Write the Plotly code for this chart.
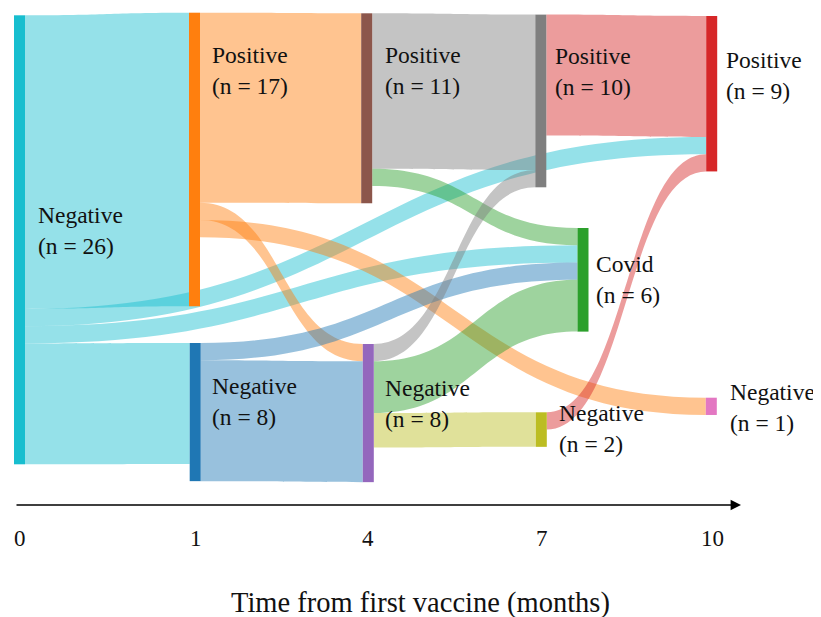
import plotly.graph_objects as go

# ---------------- data ----------------
node_names = ["Negative", "Positive", "Negative", "Positive", "Negative",
              "Positive", "Negative", "Covid", "Positive", "Negative"]
node_counts = [26, 17, 8, 11, 8, 10, 2, 6, 9, 1]

link_source = [0, 0, 0, 0, 1, 1, 1, 2, 2, 3, 3, 4, 4, 4, 5, 6]
link_target = [1, 8, 7, 2, 3, 9, 4, 4, 7, 5, 7, 5, 7, 6, 8, 8]
link_value = [17, 1, 1, 7, 11, 1, 1, 7, 1, 9, 1, 1, 3, 2, 7, 1]

month_ticks = ["0", "1", "4", "7", "10"]
axis_title = "Time from first vaccine (months)"

# ---------------- style / layout ----------------
W, H = 821, 617
OFF = 8  # page body margin of the rendered html
FONT = "Liberation Serif"
node_colors = ["#17becf", "#ff7f0e", "#1f77b4", "#8c564b", "#9467bd",
               "#7f7f7f", "#bcbd22", "#2ca02c", "#d62728", "#e377c2"]
# links coloured by source (first two steps) or by target (later steps)
link_color_by = ["s", "s", "s", "s", "s", "s", "s", "s", "s",
                 "t", "t", "t", "t", "t", "t", "t"]
LINK_ALPHA = 0.46


def rgba(hexc, a):
    h = hexc.lstrip("#")
    return "rgba(%d,%d,%d,%.2f)" % (int(h[0:2], 16), int(h[2:4], 16), int(h[4:6], 16), a)


def px_x(v):
    return (v - OFF) / W


def px_y(v):
    return 1 - (v - OFF) / H


link_colors = [rgba(node_colors[s if c == "s" else t], LINK_ALPHA)
               for s, t, c in zip(link_source, link_target, link_color_by)]

# sankey drawing area (pixels, page coordinates)
SK_TOP, SK_H = 14.0, 449.0
KY = SK_H / max(node_counts)          # px per patient (largest column = 26)
THICK = 11

# node placement (pixel centre x, pixel top y; page coordinates)
node_cx_px = [19.5, 194.5, 195.2, 366.7, 368.3, 540.8, 541.3, 583.0, 711.7, 711.3]
node_top_px = [15.3, 12.7, 343.0, 13.3, 344.0, 14.6, 412.3, 228.0, 16.0, 397.7]
node_x = [(cx - OFF) / W for cx in node_cx_px]
node_y = [(top + n * KY / 2 - SK_TOP) / SK_H for top, n in zip(node_top_px, node_counts)]

fig = go.Figure(go.Sankey(
    arrangement="fixed",
    domain=dict(x=[0, 1], y=[px_y(SK_TOP + SK_H), px_y(SK_TOP)]),
    node=dict(
        label=[""] * len(node_names),
        customdata=["%s (n = %d)" % (a, b) for a, b in zip(node_names, node_counts)],
        hovertemplate="%{customdata}<extra></extra>",
        color=node_colors,
        x=node_x,
        y=node_y,
        pad=10,
        thickness=THICK,
        line=dict(width=0),
    ),
    link=dict(
        source=link_source,
        target=link_target,
        value=link_value,
        color=link_colors,
    ),
))

# node labels (left x px, vertical centre px; page coordinates)
label_left_px = [36, 210, 210, 383, 383, 553, 557, 594, 724, 728]
label_cy_px = [230, 70, 401, 70, 403, 71, 428, 279, 75, 407]
LABEL_SIZE = 23.5

annotations = []
for name, n, lx, ly in zip(node_names, node_counts, label_left_px, label_cy_px):
    annotations.append(dict(
        text="%s<br>(n = %d)" % (name, n), x=px_x(lx), y=px_y(ly),
        xref="paper", yref="paper", xanchor="left", yanchor="middle",
        align="left", showarrow=False,
        font=dict(family=FONT, size=LABEL_SIZE, color="#111111"),
    ))

# time axis arrow
ARROW_Y, ARROW_X0, ARROW_X1 = 505, 15, 741
annotations.append(dict(
    text="", x=px_x(ARROW_X1), y=px_y(ARROW_Y), xref="paper", yref="paper",
    showarrow=True, ax=-(ARROW_X1 - ARROW_X0), ay=0,
    arrowhead=2, arrowsize=1.6, arrowwidth=1.3, arrowcolor="#000000",
))

tick_x_px = [19.5, 196, 367.5, 542, 712]
TICK_Y = 538
for lab, tx in zip(month_ticks, tick_x_px):
    annotations.append(dict(
        text=lab, x=px_x(tx), y=px_y(TICK_Y), xref="paper", yref="paper",
        xanchor="center", yanchor="middle", showarrow=False,
        font=dict(family=FONT, size=23, color="#111111"),
    ))

annotations.append(dict(
    text=axis_title, x=px_x(421), y=px_y(603), xref="paper", yref="paper",
    xanchor="center", yanchor="middle", showarrow=False,
    font=dict(family=FONT, size=28.5, color="#111111"),
))

fig.update_layout(
    width=W, height=H,
    margin=dict(l=0, r=0, t=0, b=0),
    paper_bgcolor="white", plot_bgcolor="white",
    annotations=annotations,
    showlegend=False,
)

fig.write_html("out.html")
